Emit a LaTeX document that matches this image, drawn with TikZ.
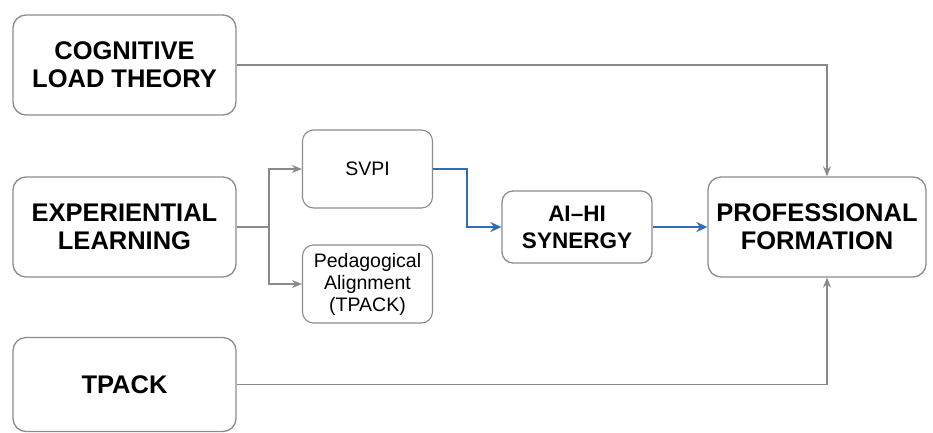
\documentclass[tikz,border=0pt]{standalone}
\usepackage{fontspec}
\setmainfont{Liberation Sans}
\usetikzlibrary{arrows.meta}
\definecolor{boxgray}{HTML}{8C8C8C}
\definecolor{linegray}{HTML}{8A8A8A}
\definecolor{flowblue}{HTML}{2F6DB5}
\tikzset{
  bigbox/.style={draw=boxgray, line width=1.3pt, rounded corners=13pt, fill=white,
    align=center, font=\fontsize{25.5}{28}\selectfont\bfseries, inner sep=0pt},
  smallbox/.style={draw=boxgray, line width=1.1pt, rounded corners=11pt, fill=white,
    align=center, font=\fontsize{19.5}{22}\selectfont, inner sep=0pt,
    minimum width=130pt, minimum height=78pt},
  gline/.style={draw=linegray, line width=1.3pt},
  garrow/.style={gline, -{Stealth[length=10pt,width=8pt]}},
  barrow/.style={draw=flowblue, line width=2.6pt, -{Stealth[length=11pt,width=10pt]}}
}
\begin{document}
\begin{tikzpicture}[x=1pt,y=-1pt]
\useasboundingbox[fill=white] (0,0) rectangle (933,432);
\node[bigbox, minimum width=223pt, minimum height=100pt] (clt) at (124.5,65) {COGNITIVE\\LOAD THEORY};
\node[bigbox, minimum width=223pt, minimum height=100pt] (el) at (124.5,227) {EXPERIENTIAL\\LEARNING};
\node[bigbox, minimum width=223pt, minimum height=94pt] (tp) at (124.5,384.5) {TPACK};
\node[smallbox] (svpi) at (367.5,169) {SVPI};
\node[smallbox] (ped) at (367.5,284) {Pedagogical\\Alignment\\(TPACK)};
\node[bigbox, minimum width=150pt, minimum height=72pt, font=\fontsize{22.5}{27}\selectfont\bfseries, rounded corners=11pt] (ai) at (577,227) {AI--HI\\SYNERGY};
\node[bigbox, minimum width=218pt, minimum height=100pt] (pf) at (817,227) {PROFESSIONAL\\FORMATION};
\coordinate (br) at (269,227);
\draw[gline] (el.east) -- (br);
\draw[garrow] (br) |- (svpi.west);
\draw[garrow] (br) |- (ped.west);
\draw[barrow] (svpi.east) -- ++(34,0) |- (ai.west);
\draw[barrow] (ai.east) -- (pf.west);
\draw[garrow] (clt.east) -| ([xshift=10pt]pf.north);
\draw[garrow] (tp.east) -| ([xshift=10pt]pf.south);
\end{tikzpicture}
\end{document}
